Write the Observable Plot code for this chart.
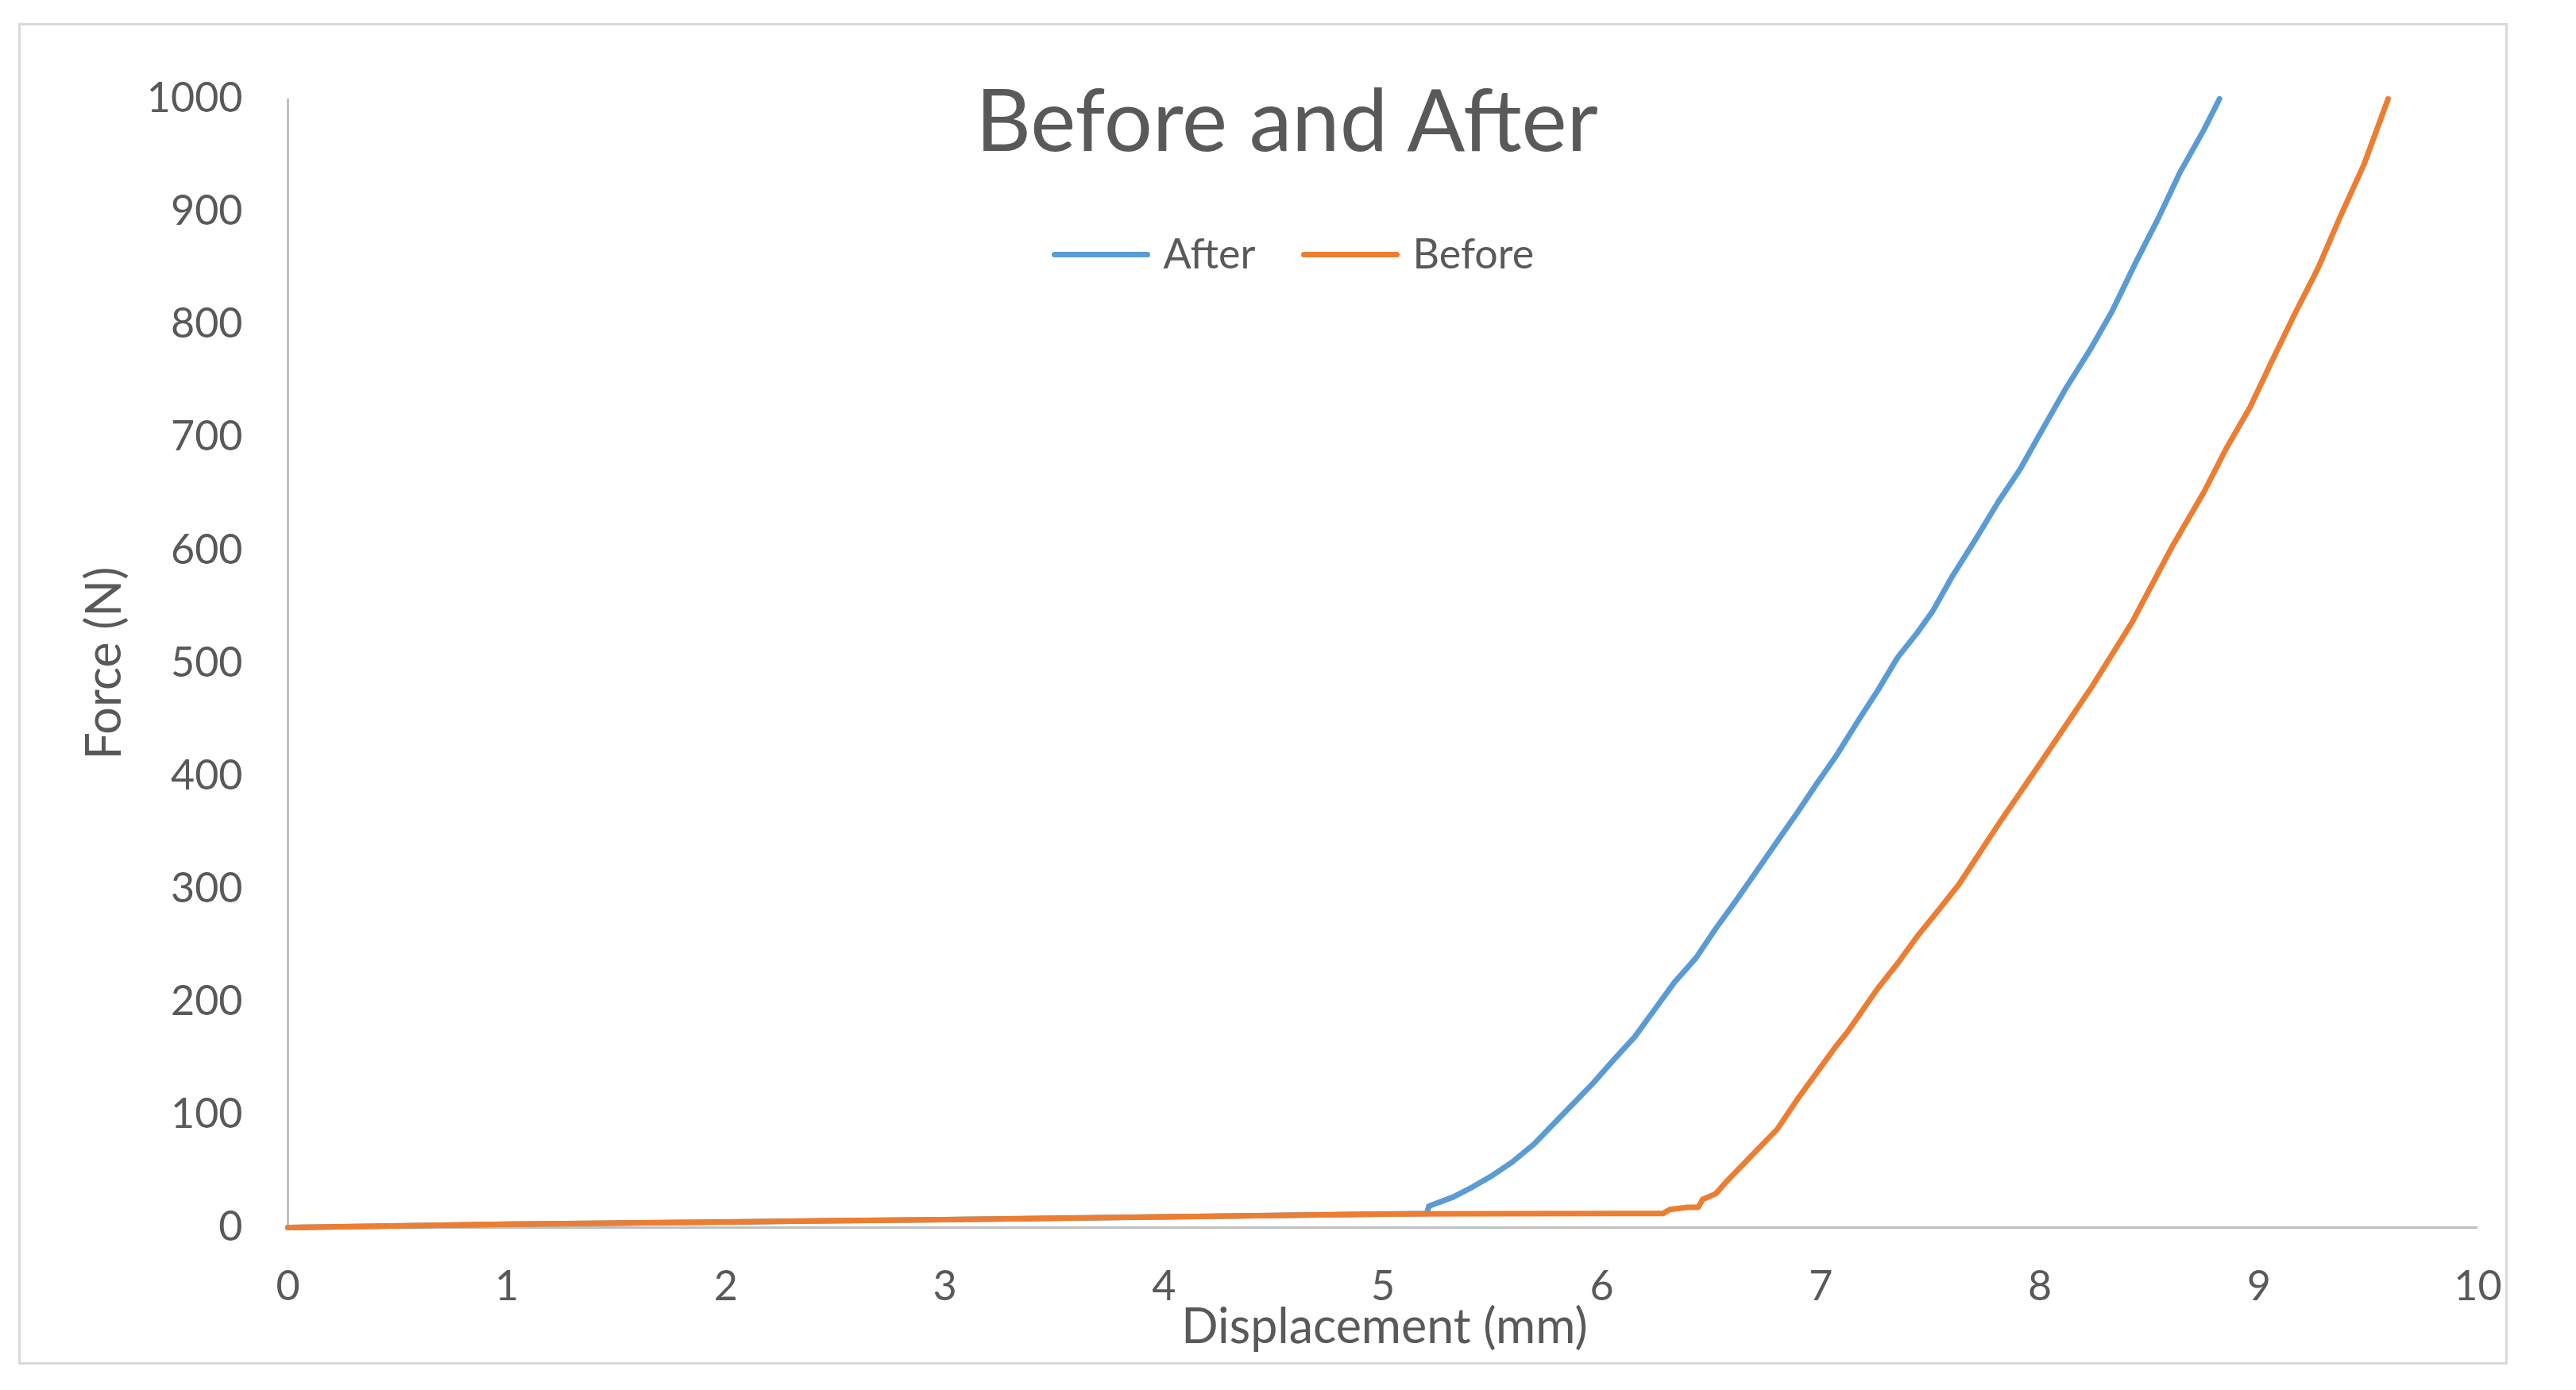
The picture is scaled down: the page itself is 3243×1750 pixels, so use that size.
<!DOCTYPE html>
<html>
<head>
<meta charset="utf-8">
<script src="https://cdn.jsdelivr.net/npm/d3@7"></script>
<script src="https://cdn.jsdelivr.net/npm/@observablehq/plot@0.6"></script>
<style>
  html, body { margin: 0; padding: 0; background: #fff; }
  #wrap { position: relative; width: 3243px; height: 1750px; overflow: hidden; font-family: Lato, "Open Sans", sans-serif; }
  #frame { position: absolute; left: 23px; top: 29px; width: 3134px; height: 1689px; border: 3px solid #d9d9d9; box-sizing: border-box; }
  .sw { position: absolute; height: 7px; border-radius: 3.5px; }
  #chart { position: absolute; left: 0; top: 0; }
</style>
</head>
<body>
<div id="wrap">
  <div id="frame"></div>
  <div id="chart"></div>
  <div class="sw" style="left:1324px; top:317px; width:124px; background:#5b9bd5;"></div>
  <div class="sw" style="left:1638px; top:317px; width:124px; background:#ed7d31;"></div>
</div>
<script>
// ---- data ----
const seriesNames = ["After", "Before"];
const seriesColors = ["#5b9bd5", "#ed7d31"];

const afterX = [0, 1, 2, 3, 4, 5, 5.2, 5.21, 5.32, 5.41, 5.49, 5.59, 5.69, 5.78, 5.87, 5.96, 6.06, 6.15, 6.24, 6.33, 6.43, 6.52, 6.61, 6.70, 6.80, 6.89, 6.98, 7.07, 7.17, 7.26, 7.35, 7.44, 7.51, 7.60, 7.71, 7.81, 7.91, 8.02, 8.12, 8.23, 8.33, 8.44, 8.54, 8.64, 8.75, 8.82];
const afterY = [0, 3, 5, 7, 9.5, 12, 12.5, 19, 27, 36, 45, 58, 74, 92, 110, 128, 150, 169, 193, 217, 239, 265, 289, 314, 342, 367, 393, 418, 449, 476, 505, 527, 546, 577, 611, 643, 672, 710, 744, 778, 812, 856, 894, 935, 973, 1000];

const beforeX = [0, 1, 2, 3, 4, 5, 6.28, 6.31, 6.39, 6.44, 6.46, 6.52, 6.57, 6.63, 6.70, 6.80, 6.89, 6.98, 7.07, 7.12, 7.26, 7.35, 7.44, 7.54, 7.63, 7.82, 8.0, 8.24, 8.42, 8.60, 8.75, 8.85, 8.96, 9.06, 9.16, 9.27, 9.37, 9.48, 9.59];
const beforeY = [0, 3, 5, 7, 9.5, 12, 12.5, 16, 18, 18, 25, 30, 41, 53, 67, 87, 113, 137, 161, 173, 212, 234, 258, 282, 304, 360, 411, 480, 536, 602, 652, 690, 727, 768, 808, 850, 895, 942, 1000];

const xTicks = [0, 1, 2, 3, 4, 5, 6, 7, 8, 9, 10];
const yTicks = [0, 100, 200, 300, 400, 500, 600, 700, 800, 900, 1000];

const titleText = "Before and After";
const xLabel = "Displacement (mm)";
const yLabel = "Force (N)";

// ---- build tables ----
const after = afterX.map((x, i) => ({x, y: afterY[i]}));
const before = beforeX.map((x, i) => ({x, y: beforeY[i]}));

const textColor = "#595959";
const axisColor = "#bfbfbf";

const chart = Plot.plot({
  width: 3243,
  height: 1750,
  marginLeft: 362,
  marginRight: 124,
  marginTop: 124,
  marginBottom: 205,
  style: { fontFamily: "Lato, 'Open Sans', sans-serif", background: "transparent", overflow: "visible" },
  x: { domain: [0, 10] },
  y: { domain: [0, 1000] },
  marks: [
    Plot.ruleY([0], { stroke: axisColor, strokeWidth: 3 }),
    Plot.ruleX([0], { stroke: axisColor, strokeWidth: 3 }),
    Plot.axisX({ ticks: xTicks, tickSize: 0, tickPadding: 55, fontSize: 52, fill: textColor, label: null, tickFormat: d => String(d) }),
    Plot.axisY({ ticks: yTicks, tickSize: 0, tickPadding: 57, fontSize: 52, fill: textColor, label: null, tickFormat: d => String(d) }),
    Plot.line(after, { x: "x", y: "y", stroke: seriesColors[0], strokeWidth: 7, strokeLinejoin: "round", strokeLinecap: "round" }),
    Plot.line(before, { x: "x", y: "y", stroke: seriesColors[1], strokeWidth: 7, strokeLinejoin: "round", strokeLinecap: "round" }),
    Plot.text([titleText], { frameAnchor: "top", dx: -121, dy: 31, fontSize: 108, fill: textColor, lineAnchor: "middle" }),
    Plot.text([seriesNames[0]], { frameAnchor: "top-left", dx: 1102, dy: 197, fontSize: 52, fill: textColor, textAnchor: "start", lineAnchor: "middle" }),
    Plot.text([seriesNames[1]], { frameAnchor: "top-left", dx: 1416, dy: 197, fontSize: 52, fill: textColor, textAnchor: "start", lineAnchor: "middle" }),
    Plot.text([xLabel], { frameAnchor: "bottom", dx: 2, dy: 126, fontSize: 61, fill: textColor, lineAnchor: "middle" }),
    Plot.text([yLabel], { frameAnchor: "left", dx: -230, rotate: -90, fontSize: 61, fill: textColor, textAnchor: "middle", lineAnchor: "middle" })
  ]
});
document.getElementById("chart").appendChild(chart);
</script>
</body>
</html>
